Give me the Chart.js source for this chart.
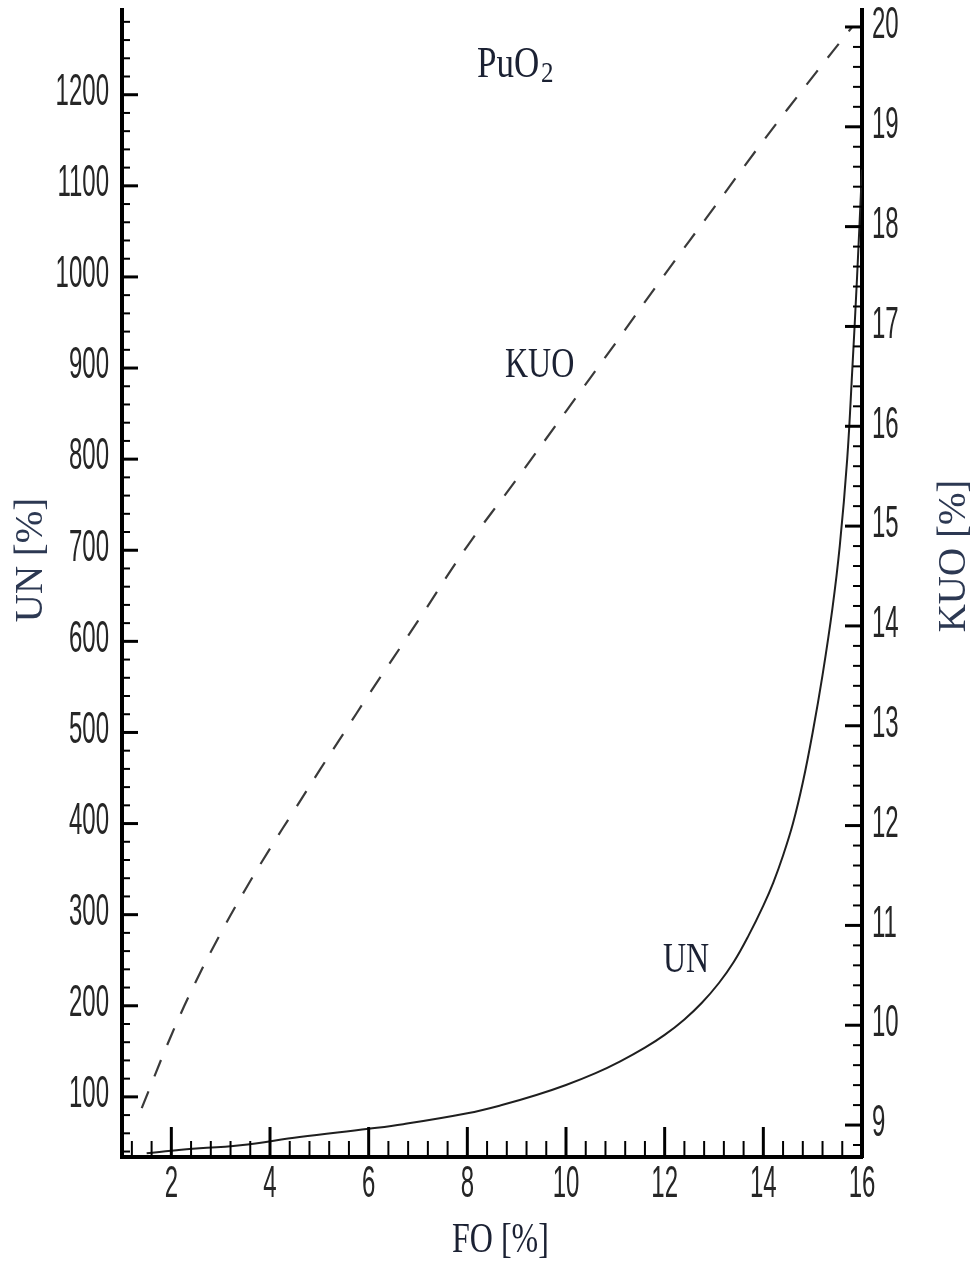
<!DOCTYPE html>
<html>
<head>
<meta charset="utf-8">
<script src="https://cdn.jsdelivr.net/npm/chart.js@4.4.1/dist/chart.umd.min.js"></script>
<style>
  html, body { margin: 0; padding: 0; background: #fff; }
  #wrap { width: 976px; height: 1265px; }
</style>
</head>
<body>
<div id="wrap"><canvas id="puChart" width="976" height="1265"></canvas></div>
<script>
// UN curve (left axis)
const foUN = [1.5, 2.2, 3.4, 4.6, 6.0, 6.7, 8.0, 8.7, 9.4, 10.0, 10.6, 11.1, 11.6, 12.0, 12.4, 12.75, 13.1, 13.4, 13.7, 14.0, 14.2, 14.4, 14.6, 14.8, 15.0, 15.2, 15.4, 15.55, 15.7, 15.8, 15.9, 16.0]
const unValues = [38, 42, 47, 56, 65, 70, 82, 91, 102, 113, 126, 139, 154, 168, 185, 203, 225, 248, 277, 310, 335, 365, 400, 445, 500, 563, 636, 705, 800, 895, 1000, 1118]

// KUO curve (right axis)
const foKUO = [1.4, 2.0, 2.5, 3.0, 3.5, 4.0, 4.5, 5.0, 5.5, 6.0, 7.0, 8.0, 9.0, 10.0, 11.0, 12.0, 13.0, 14.0, 15.0, 15.8]
const kuoValues = [9.17, 9.9, 10.44, 10.92, 11.36, 11.77, 12.16, 12.55, 12.93, 13.31, 14.05, 14.8, 15.47, 16.15, 16.83, 17.52, 18.19, 18.86, 19.5, 20.0]

// tick labels
const xTickLabels = [2, 4, 6, 8, 10, 12, 14, 16]
const leftTickLabels = [100, 200, 300, 400, 500, 600, 700, 800, 900, 1000, 1100, 1200]
const rightTickLabels = [9, 10, 11, 12, 13, 14, 15, 16, 17, 18, 19, 20]

const toPoints = (xs, ys) => xs.map((x, i) => ({x: x, y: ys[i]}))

// text squeezed like the scanned figure (taller than wide)
function stretchedText(ctx, text, x, y, font, sy, align, baseline, color) {
    ctx.save()
    ctx.translate(x, y)
    ctx.scale(1, sy)
    ctx.font = font
    ctx.textAlign = align
    ctx.textBaseline = baseline
    ctx.fillStyle = color
    ctx.fillText(text, 0, 0)
    ctx.restore()
}

const axisDecor = {
    id: 'axisDecor',
    afterDraw(chart) {
        const ctx = chart.ctx
        const area = chart.chartArea
        const sx = chart.scales.x, sy = chart.scales.y, sr = chart.scales.y1
        ctx.save()
        ctx.strokeStyle = '#000'
        ctx.lineCap = 'butt'

        const tick = (x1, y1, x2, y2, w) => {
            ctx.lineWidth = w
            ctx.beginPath()
            ctx.moveTo(x1, y1)
            ctx.lineTo(x2, y2)
            ctx.stroke()
        }

        // left axis: major every 100, minor every 20
        for (let v = 40; v <= 1290; v += 20) {
            const py = sy.getPixelForValue(v)
            const major = v % 100 === 0
            tick(area.left, py, area.left + (major ? 16 : 8), py, major ? 3 : 2)
        }
        // right axis: major every 1, minor every 0.2
        for (let i = 44; i <= 100; i++) {
            const v = i / 5
            const py = sr.getPixelForValue(v)
            const major = i % 5 === 0
            tick(area.right, py, area.right - (major ? 17 : 9), py, major ? 3 : 2)
        }
        // bottom axis: major every 2, minor every 0.4
        for (let i = 3; i <= 40; i++) {
            const v = i * 0.4
            const px = sx.getPixelForValue(v)
            const major = i % 5 === 0
            tick(px, area.bottom, px, area.bottom - (major ? 30 : 16), major ? 3 : 2)
        }
        ctx.restore()

        const tickFont = '24px "Liberation Sans", Arial, sans-serif'
        const tickColor = '#262626'
        leftTickLabels.forEach(v => {
            stretchedText(ctx, String(v), area.left - 13, sy.getPixelForValue(v) - 2, tickFont, 1.85, 'right', 'middle', tickColor)
        })
        rightTickLabels.forEach(v => {
            stretchedText(ctx, String(v), area.right + 10, sr.getPixelForValue(v) - 1, tickFont, 1.85, 'left', 'middle', tickColor)
        })
        xTickLabels.forEach(v => {
            stretchedText(ctx, String(v), sx.getPixelForValue(v), 1185, tickFont, 1.85, 'center', 'middle', tickColor)
        })

        const serif = '"Liberation Serif", "Times New Roman", serif'
        const textColor = '#1b2133'
        // title
        stretchedText(ctx, 'PuO', 477, 77, '35px ' + serif, 1.25, 'left', 'alphabetic', textColor)
        stretchedText(ctx, '2', 541, 82, '25px ' + serif, 1.2, 'left', 'alphabetic', textColor)
        // curve labels
        stretchedText(ctx, 'KUO', 505, 377, '32px ' + serif, 1.32, 'left', 'alphabetic', textColor)
        stretchedText(ctx, 'UN', 663, 972, '32px ' + serif, 1.32, 'left', 'alphabetic', textColor)
        // x axis title
        stretchedText(ctx, 'FO [%]', 452, 1252, '32px ' + serif, 1.3, 'left', 'alphabetic', textColor)

        // rotated axis titles
        const axisTitleColor = '#2c3852'
        ctx.save()
        ctx.font = '39px ' + serif
        ctx.fillStyle = axisTitleColor
        ctx.textAlign = 'center'
        ctx.textBaseline = 'alphabetic'
        ctx.translate(42, 560)
        ctx.rotate(-Math.PI / 2)
        ctx.fillText('UN [%]', 0, 0)
        ctx.restore()

        ctx.save()
        ctx.font = '39px ' + serif
        ctx.fillStyle = axisTitleColor
        ctx.textAlign = 'center'
        ctx.textBaseline = 'alphabetic'
        ctx.translate(965, 556)
        ctx.rotate(-Math.PI / 2)
        ctx.fillText('KUO [%]', 0, 0)
        ctx.restore()
    }
}

const CHART = document.getElementById('puChart')
const axisBorder = {display: true, color: '#000', width: 4}
const noGrid = {display: false, drawTicks: false}

let puChart = new Chart(CHART, {
    type: 'line',
    data: {
        datasets: [
            {
                label: 'UN',
                data: toPoints(foUN, unValues),
                yAxisID: 'y',
                borderColor: '#1f1f1f',
                borderWidth: 2,
                pointRadius: 0,
                tension: 0.4,
                fill: false
            },
            {
                label: 'KUO',
                data: toPoints(foKUO, kuoValues),
                yAxisID: 'y1',
                borderColor: '#3a3a3a',
                borderWidth: 2.2,
                borderDash: [18, 16],
                pointRadius: 0,
                tension: 0.4,
                fill: false
            }
        ]
    },
    options: {
        responsive: false,
        animation: false,
        layout: {
            padding: {left: 122, right: 114, top: 10, bottom: 108}
        },
        plugins: {
            legend: {display: false},
            tooltip: {enabled: false},
            title: {display: false}
        },
        scales: {
            x: {
                type: 'linear',
                min: 1,
                max: 16,
                grid: noGrid,
                ticks: {display: false},
                border: axisBorder
            },
            y: {
                type: 'linear',
                position: 'left',
                min: 34,
                max: 1293,
                grid: noGrid,
                ticks: {display: false},
                border: axisBorder
            },
            y1: {
                type: 'linear',
                position: 'right',
                min: 8.68,
                max: 20.17,
                grid: noGrid,
                ticks: {display: false},
                border: axisBorder
            }
        }
    },
    plugins: [axisDecor]
})
</script>
</body>
</html>
